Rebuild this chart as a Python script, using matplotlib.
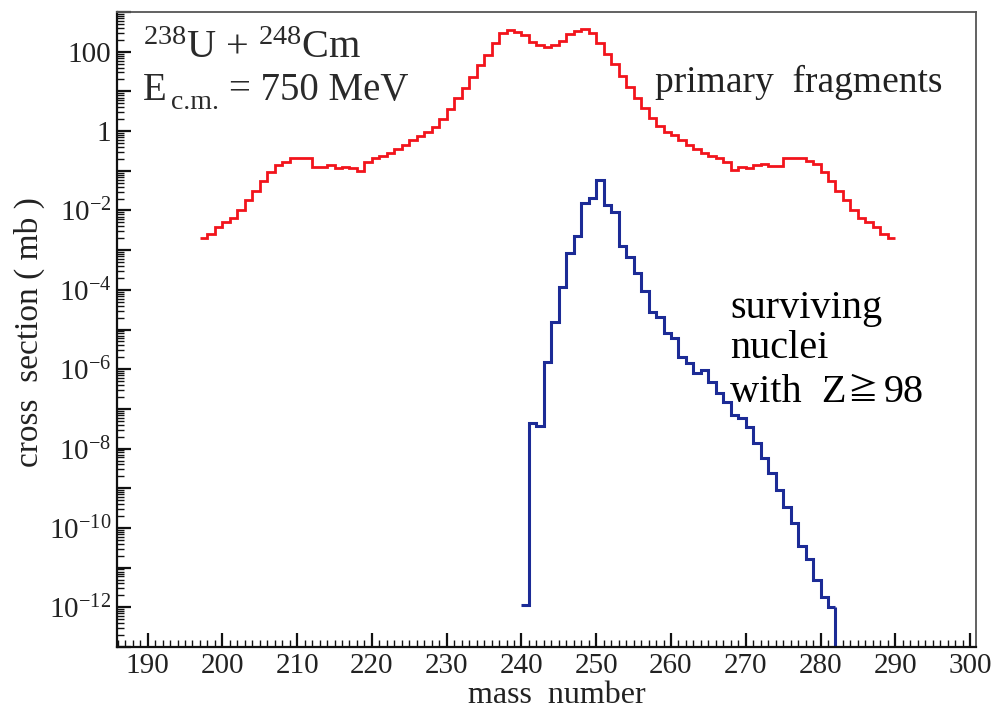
import numpy as np
import matplotlib.pyplot as plt
from matplotlib.ticker import LogLocator, MultipleLocator, FuncFormatter, NullFormatter

plt.rcParams['font.family'] = ['Liberation Serif', 'Noto Sans CJK JP', 'DejaVu Sans']
plt.rcParams['mathtext.fontset'] = 'custom'
plt.rcParams['mathtext.rm'] = 'Liberation Serif'
plt.rcParams['mathtext.default'] = 'regular'

# primary fragments: one bin per mass number, log10 of cross section (mb)
red_start = 197
red_log = [-2.70, -2.58, -2.41, -2.28, -2.20, -1.99, -1.74, -1.50, -1.25, -1.04,
           -0.85, -0.77, -0.69, -0.69, -0.69, -0.90, -0.90, -0.85, -0.92, -0.90,
           -0.94, -1.00, -0.79, -0.69, -0.62, -0.54, -0.45, -0.35, -0.22, -0.12,
           -0.03, 0.11, 0.30, 0.55, 0.84, 1.08, 1.37, 1.66, 1.93, 2.21,
           2.46, 2.56, 2.50, 2.42, 2.25, 2.16, 2.12, 2.17, 2.27, 2.44,
           2.52, 2.57, 2.46, 2.21, 1.94, 1.68, 1.39, 1.10, 0.84, 0.57,
           0.32, 0.12, -0.02, -0.11, -0.22, -0.35, -0.45, -0.54, -0.62, -0.69,
           -0.77, -0.98, -0.90, -0.94, -0.85, -0.84, -0.88, -0.88, -0.69, -0.69,
           -0.69, -0.75, -0.84, -1.03, -1.26, -1.52, -1.74, -1.99, -2.20, -2.28,
           -2.41, -2.58, -2.70]

# surviving nuclei with Z >= 98
blue_start = 240
blue_log = [-11.95, -7.36, -7.43, -5.81, -4.80, -3.92, -3.08, -2.64, -1.82, -1.68,
            -1.23, -1.86, -2.05, -2.90, -3.18, -3.57, -4.02, -4.55, -4.68, -5.09,
            -5.22, -5.68, -5.85, -6.10, -6.02, -6.33, -6.59, -6.82, -7.15, -7.23,
            -7.46, -7.86, -8.24, -8.62, -9.04, -9.46, -9.88, -10.45, -10.79, -11.31,
            -11.73, -11.98]

red_edges = np.arange(red_start, red_start + len(red_log) + 1)
red_vals = 10.0 ** np.array(red_log)
blue_edges = np.arange(blue_start, blue_start + len(blue_log) + 1)
blue_vals = 10.0 ** np.array(blue_log)

fig = plt.figure(figsize=(9.99, 7.09), dpi=100)
ax = fig.add_axes([0.1171, 0.0874, 0.8599, 0.8956])

ax.set_yscale('log')
ax.set_xlim(185.9, 300.8)
ax.set_ylim(1e-13, 1e3)

ax.stairs(red_vals, red_edges, baseline=None, color='#f2141c', lw=2.0)
ax.stairs(blue_vals, blue_edges, baseline=None, color='#1c2b96', lw=2.2)
# last blue bin falls off to the floor of the plot
ax.plot([blue_edges[-1], blue_edges[-1]], [blue_vals[-1], ax.get_ylim()[0]],
        color='#1c2b96', lw=2.2, solid_capstyle='butt')

# ticks
def ylab(v, pos):
    e = int(round(np.log10(v)))
    if e % 2:
        return ''
    if e == 2:
        return '100'
    if e == 0:
        return '1'
    return r'$10^{%d}$' % e

ax.yaxis.set_major_locator(LogLocator(base=10, numticks=40))
ax.yaxis.set_minor_locator(LogLocator(base=10, subs=np.arange(2, 10), numticks=40))
ax.yaxis.set_major_formatter(FuncFormatter(ylab))
ax.yaxis.set_minor_formatter(NullFormatter())
ax.xaxis.set_major_locator(MultipleLocator(10))
ax.xaxis.set_minor_locator(MultipleLocator(1))

ax.tick_params(which='both', direction='in', top=False, right=False,
               labelsize=21, colors='#111', labelcolor='#222')
ax.tick_params(which='major', length=10, width=1.6)
ax.tick_params(which='minor', length=5, width=1.0)
ax.tick_params(axis='x', pad=4)
ax.tick_params(axis='y', pad=4)

for s in ['left', 'bottom']:
    ax.spines[s].set_linewidth(1.6)
    ax.spines[s].set_color('#111')
for s in ['top', 'right']:
    ax.spines[s].set_linewidth(1.3)
    ax.spines[s].set_color('#555')

# axis titles
fig.text(557 / 999, 1 - 703 / 709, 'mass  number', fontsize=23, color='#222',
         ha='center', va='baseline')
fig.text(29 / 999, 1 - 332 / 709, 'cross  section ( mb )', fontsize=24, color='#222',
         rotation=90, ha='center', va='center')

# annotations
txt = '#2a2a2a'
fig.text(143 / 999, 1 - 58 / 709, r'$^{238}$U + $^{248}$Cm', fontsize=29, color=txt,
         ha='left', va='baseline')
fig.text(143 / 999, 1 - 100 / 709, 'E', fontsize=28, color=txt, ha='left', va='baseline')
fig.text(171 / 999, 1 - 109 / 709, 'c.m.', fontsize=20, color=txt, ha='left', va='baseline')
fig.text(229 / 999, 1 - 100 / 709, '= 750 MeV', fontsize=28, color=txt,
         ha='left', va='baseline')
fig.text(655 / 999, 1 - 92 / 709, 'primary  fragments', fontsize=27, color='#222',
         ha='left', va='baseline')
fig.text(730 / 999, 1 - 318 / 709, 'surviving', fontsize=29, color='black',
         ha='left', va='baseline')
fig.text(730 / 999, 1 - 358 / 709, 'nuclei', fontsize=29, color='black',
         ha='left', va='baseline')
fig.text(730 / 999, 1 - 402 / 709, 'with  Z', fontsize=29, color='black',
         ha='left', va='baseline')
fig.text(847 / 999, 1 - 400 / 709, '\u2267', fontsize=22, color='black',
         ha='left', va='baseline', family=['Noto Sans CJK JP', 'DejaVu Sans'])
fig.text(884 / 999, 1 - 402 / 709, '98', fontsize=29, color='black',
         ha='left', va='baseline')

fig.savefig('out.png', dpi=100, facecolor='white')
